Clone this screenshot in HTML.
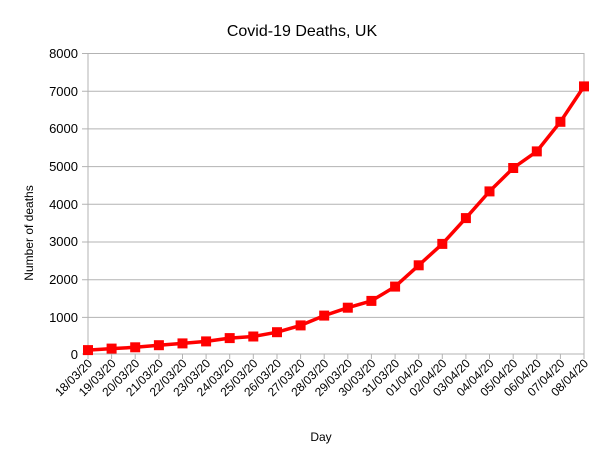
<!DOCTYPE html>
<html><head><meta charset="utf-8"><style>
body{margin:0;background:#fff}
svg{display:block;font-family:"Liberation Sans",sans-serif}
</style></head><body>
<svg width="605" height="463" viewBox="0 0 605 463" xmlns="http://www.w3.org/2000/svg">
<rect width="605" height="463" fill="#fff"/>
<text x="302" y="36" font-size="16" text-anchor="middle" fill="#000">Covid-19 Deaths, UK</text>
<g stroke="#b3b3b3" stroke-width="1">
<line x1="82" y1="53.5" x2="584" y2="53.5"/>
<line x1="82" y1="91.2" x2="584" y2="91.2"/>
<line x1="82" y1="128.9" x2="584" y2="128.9"/>
<line x1="82" y1="166.6" x2="584" y2="166.6"/>
<line x1="82" y1="204.3" x2="584" y2="204.3"/>
<line x1="82" y1="242" x2="584" y2="242"/>
<line x1="82" y1="279.7" x2="584" y2="279.7"/>
<line x1="82" y1="317.4" x2="584" y2="317.4"/>
<line x1="82" y1="354" x2="584" y2="354"/>
<line x1="88" y1="53" x2="88" y2="359"/>
<line x1="584" y1="53" x2="584" y2="359"/>
<line x1="111.6" y1="354" x2="111.6" y2="359"/><line x1="135.2" y1="354" x2="135.2" y2="359"/><line x1="158.9" y1="354" x2="158.9" y2="359"/><line x1="182.5" y1="354" x2="182.5" y2="359"/><line x1="206.1" y1="354" x2="206.1" y2="359"/><line x1="229.7" y1="354" x2="229.7" y2="359"/><line x1="253.3" y1="354" x2="253.3" y2="359"/><line x1="277" y1="354" x2="277" y2="359"/><line x1="300.6" y1="354" x2="300.6" y2="359"/><line x1="324.2" y1="354" x2="324.2" y2="359"/><line x1="347.8" y1="354" x2="347.8" y2="359"/><line x1="371.4" y1="354" x2="371.4" y2="359"/><line x1="395.1" y1="354" x2="395.1" y2="359"/><line x1="418.7" y1="354" x2="418.7" y2="359"/><line x1="442.3" y1="354" x2="442.3" y2="359"/><line x1="465.9" y1="354" x2="465.9" y2="359"/><line x1="489.5" y1="354" x2="489.5" y2="359"/><line x1="513.2" y1="354" x2="513.2" y2="359"/><line x1="536.8" y1="354" x2="536.8" y2="359"/><line x1="560.4" y1="354" x2="560.4" y2="359"/>
</g>
<g font-size="13" text-anchor="end" fill="#000">
<text x="78" y="58">8000</text><text x="78" y="96">7000</text><text x="78" y="133">6000</text><text x="78" y="171">5000</text><text x="78" y="209">4000</text><text x="78" y="246">3000</text><text x="78" y="284">2000</text><text x="78" y="322">1000</text><text x="78" y="359">0</text>
</g>
<text transform="translate(33,233) rotate(-90)" font-size="12" text-anchor="middle">Number of deaths</text>
<text x="321" y="441" font-size="12" text-anchor="middle">Day</text>
<g font-size="12" text-anchor="end" fill="#000">
<text transform="translate(93,364) rotate(-45)">18/03/20</text>
<text transform="translate(116.6,364) rotate(-45)">19/03/20</text>
<text transform="translate(140.2,364) rotate(-45)">20/03/20</text>
<text transform="translate(163.9,364) rotate(-45)">21/03/20</text>
<text transform="translate(187.5,364) rotate(-45)">22/03/20</text>
<text transform="translate(211.1,364) rotate(-45)">23/03/20</text>
<text transform="translate(234.7,364) rotate(-45)">24/03/20</text>
<text transform="translate(258.3,364) rotate(-45)">25/03/20</text>
<text transform="translate(282,364) rotate(-45)">26/03/20</text>
<text transform="translate(305.6,364) rotate(-45)">27/03/20</text>
<text transform="translate(329.2,364) rotate(-45)">28/03/20</text>
<text transform="translate(352.8,364) rotate(-45)">29/03/20</text>
<text transform="translate(376.4,364) rotate(-45)">30/03/20</text>
<text transform="translate(400.1,364) rotate(-45)">31/03/20</text>
<text transform="translate(423.7,364) rotate(-45)">01/04/20</text>
<text transform="translate(447.3,364) rotate(-45)">02/04/20</text>
<text transform="translate(470.9,364) rotate(-45)">03/04/20</text>
<text transform="translate(494.5,364) rotate(-45)">04/04/20</text>
<text transform="translate(518.2,364) rotate(-45)">05/04/20</text>
<text transform="translate(541.8,364) rotate(-45)">06/04/20</text>
<text transform="translate(565.4,364) rotate(-45)">07/04/20</text>
<text transform="translate(589,364) rotate(-45)">08/04/20</text>
</g>
<polyline fill="none" stroke="#ff0000" stroke-width="3.5" stroke-linejoin="round" points="88,350.1 111.6,348.6 135.2,347.3 158.9,345.2 182.5,343.4 206.1,341.4 229.7,338.1 253.3,336.5 277,332.2 300.6,325.4 324.2,315.6 347.8,307.7 371.4,300.9 395.1,286.6 418.7,265.3 442.3,243.9 465.9,218.1 489.5,191.4 513.2,168 536.8,151.4 560.4,121.8 584,86.4"/>
<g fill="#ff0000">
<rect x="83" y="345.1" width="10" height="10"/><rect x="106.6" y="343.6" width="10" height="10"/><rect x="130.2" y="342.3" width="10" height="10"/><rect x="153.9" y="340.2" width="10" height="10"/><rect x="177.5" y="338.4" width="10" height="10"/><rect x="201.1" y="336.4" width="10" height="10"/><rect x="224.7" y="333.1" width="10" height="10"/><rect x="248.3" y="331.5" width="10" height="10"/><rect x="272" y="327.2" width="10" height="10"/><rect x="295.6" y="320.4" width="10" height="10"/><rect x="319.2" y="310.6" width="10" height="10"/><rect x="342.8" y="302.7" width="10" height="10"/><rect x="366.4" y="295.9" width="10" height="10"/><rect x="390.1" y="281.6" width="10" height="10"/><rect x="413.7" y="260.3" width="10" height="10"/><rect x="437.3" y="238.9" width="10" height="10"/><rect x="460.9" y="213.1" width="10" height="10"/><rect x="484.5" y="186.4" width="10" height="10"/><rect x="508.2" y="163" width="10" height="10"/><rect x="531.8" y="146.4" width="10" height="10"/><rect x="555.4" y="116.8" width="10" height="10"/><rect x="579" y="81.4" width="10" height="10"/>
</g>
</svg>
</body></html>
